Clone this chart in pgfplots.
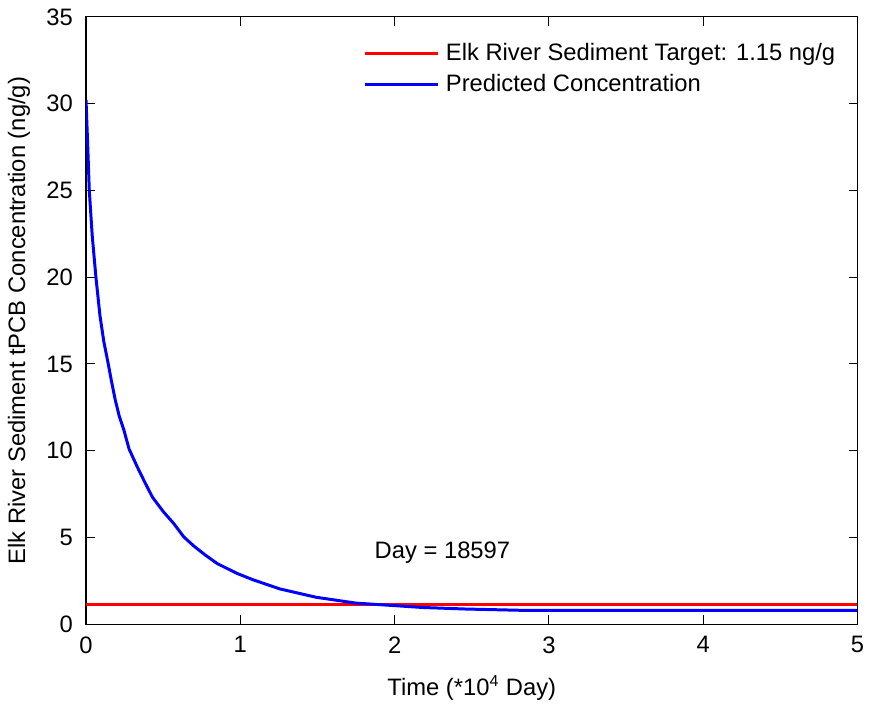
\documentclass[border=0pt]{standalone}
\usepackage{fontspec}
\setmainfont{Liberation Sans}
\usepackage{pgfplots}
\pgfplotsset{compat=1.18}

\begin{document}
\fontsize{12}{14}\selectfont
\begin{tikzpicture}
\begin{axis}[
  scale only axis,
  width=388bp,height=305.5bp,
  xmin=0,xmax=5,ymin=0,ymax=35,
  xtick={0,1,2,3,4,5},ytick={0,5,...,35},
  /pgf/number format/assume math mode=true,
  tick align=inside,major tick length=4.5bp,
  tick style={black,line width=0.5bp},
  axis line style={black,line width=0.6bp},
  tick label style={font=\fontsize{12}{14}\selectfont},
  label style={font=\fontsize{12}{14}\selectfont},
  xticklabel style={yshift=-2bp},
  yticklabel style={xshift=-2.5bp},
  xlabel={Time (*10\textsuperscript{4} Day)},
  ylabel={Elk River Sediment tPCB Concentration (ng/g)},
  xlabel style={yshift=-3bp},
  ylabel style={yshift=0bp},
  legend style={draw=none,fill=none,at={(1,1)},anchor=north east,
    xshift=-6bp,yshift=-9bp,row sep=1bp,
    font=\fontsize{12}{14}\selectfont},
  legend cell align=left,
  legend image code/.code={\draw[#1] (0bp,0bp) -- (37bp,0bp);},
]
\addplot[red,line width=1.5bp] coordinates {(0,1.15) (5,1.15)};
\addlegendentry{\hspace{1bp}Elk River Sediment Target: 1.15 ng/g}
\addplot[blue,line width=1.5bp] coordinates {
(0,30.2) (0.004,29.2) (0.01,27.8) (0.021,25.0) (0.04,22.4) (0.064,20.0)
(0.09,17.8) (0.115,16.3) (0.144,15.0) (0.165,14.0) (0.19,12.9) (0.215,12.0)
(0.245,11.2) (0.279,10.1) (0.333,9.05) (0.38,8.2) (0.43,7.33) (0.5,6.5)
(0.569,5.8) (0.633,5.04) (0.70,4.5) (0.773,3.99) (0.85,3.5) (0.977,2.94)
(1.084,2.56) (1.256,2.04) (1.49,1.56) (1.75,1.22) (2.01,1.07) (2.18,0.97)
(2.46,0.88) (2.85,0.80) (5,0.80)};
\addlegendentry{\hspace{1bp}Predicted Concentration}
\node at (axis cs:2.31,4.12) {Day = 18597};
\end{axis}
\path (current axis.south west) ++(-42.5bp,-39bp);
\path (current axis.north east) ++(5.5bp,8.5bp);
\end{tikzpicture}
\end{document}
